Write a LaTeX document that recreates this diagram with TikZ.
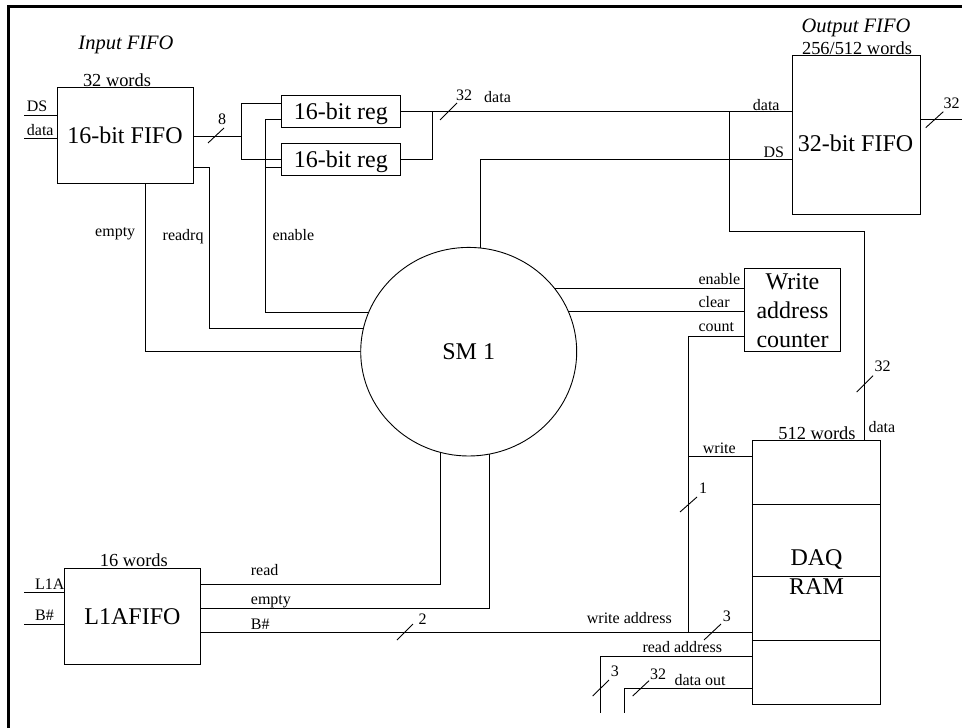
\documentclass[tikz,border=0pt]{standalone}
\usepackage{fontspec}
\setmainfont{Liberation Serif}
\usetikzlibrary{shapes.geometric,backgrounds}
\begin{document}
\begin{tikzpicture}[x=1pt,y=-1pt,
  wire/.style={line width=0.9pt},
  blk/.style={draw,line width=0.9pt,inner sep=0pt,fill=white,font=\fontsize{24}{29}\selectfont},
  one/.style={text height=16.4pt,text depth=0pt},
  lbl/.style={inner sep=0pt,anchor=base west,font=\fontsize{16}{18}\selectfont},
  wds/.style={inner sep=0pt,anchor=base,font=\fontsize{18.4}{20}\selectfont},
  ttl/.style={inner sep=0pt,anchor=base,font=\fontsize{20.5}{22}\selectfont\itshape},
  bigt/.style={inner sep=0pt,anchor=base,font=\fontsize{24}{29}\selectfont},
  slash/.style={line width=0.9pt},
]
\useasboundingbox (0,0) rectangle (962,728);

% blocks
\node[blk,one,minimum width=136pt,minimum height=96pt] (ififo) at (125,135) {16-bit FIFO};
\node[blk,one,minimum width=119.7pt,minimum height=32pt] (rega) at (340.85,111.3) {16-bit reg};
\node[blk,one,minimum width=119.7pt,minimum height=31.7pt] (regb) at (340.85,159.15) {16-bit reg};
\node[blk,minimum width=127.3pt,minimum height=159pt] (ofifo) at (856.35,134.8) {};
\node[bigt] (ofifot) at (855.5,151.7) {32-bit FIFO};
\node[blk,ellipse,one,minimum width=216pt,minimum height=208.6pt] (sm) at (468.7,351.7) {SM 1};
\node[blk,align=center,minimum width=96.4pt,minimum height=83pt] (wac) at (792.5,310.2) {Write\\address\\counter};
\node[blk,align=center,minimum width=128.4pt,minimum height=264.3pt] (ram) at (816.5,572.15) {DAQ\\RAM};
\node[blk,one,minimum width=136.4pt,minimum height=95.7pt] (l1a) at (132.5,616.15) {L1AFIFO};

% coordinates
\coordinate (dsin) at (24,115);
\coordinate (datain) at (24,138);
\coordinate (split) at (241,136);
\coordinate (sa) at (241,103);
\coordinate (sb) at (241,159);
\coordinate (ena) at (265.3,119.3);
\coordinate (enb) at (265.3,167);
\coordinate (enc) at (265.3,312.3);
\coordinate (rqa) at (209,167);
\coordinate (rqb) at (209,328);
\coordinate (emb) at (145,351.7);
\coordinate (ja) at (432.3,111.7);
\coordinate (jb) at (432.3,159.3);
\coordinate (jd) at (729,111.7);
\coordinate (dsa) at (480,159.3);
\coordinate (dda) at (729,231.7);
\coordinate (ddb) at (864.3,231.7);
\coordinate (oo) at (962,119.3);
\coordinate (wen) at (744.3,288);
\coordinate (wcl) at (744.3,311.7);
\coordinate (cta) at (688.3,336);
\coordinate (ctb) at (688.3,632.5);
\coordinate (wr) at (688.3,456);
\coordinate (wa) at (200.7,632.5);
\coordinate (raa) at (600.7,656.3);
\coordinate (rab) at (600.7,713);
\coordinate (doa) at (624.3,688);
\coordinate (dob) at (624.3,713);
\coordinate (l1in) at (24.3,592);
\coordinate (bin) at (24.3,624.3);
\coordinate (rda) at (440.7,584.3);
\coordinate (ema) at (489,608.3);

\begin{scope}[on background layer]
\fill[white] (0,0) rectangle (962,728);
\draw[wire] (dsin) -- (dsin -| ififo.west);
\draw[wire] (datain) -- (datain -| ififo.west);
\draw[wire] (ififo.east |- split) -- (split);
\draw[wire] (sa -| rega.west) -- (sa) -- (sb) -- (sb -| regb.west);
\draw[wire] (ena -| rega.west) -- (ena) -- (enc) -- (enc -| sm.center);
\draw[wire] (enb) -- (enb -| regb.west);
\draw[wire] (rqa -| ififo.east) -- (rqa) -- (rqb) -- (rqb -| sm.center);
\draw[wire] (emb |- ififo.south) -- (emb) -- (sm.center);
\draw[wire] (rega.east |- ja) -- (ofifo.west |- ja);
\draw[wire] (regb.east |- jb) -- (jb) -- (ja);
\draw[wire] (dsa |- sm.center) -- (dsa) -- (ofifo.west |- dsa);
\draw[wire] (jd) -- (dda) -- (ddb) -- (ddb |- ram.north);
\draw[wire] (ofifo.east |- oo) -- (oo);
\draw[wire] (wen -| sm.center) -- (wen -| wac.west);
\draw[wire] (wcl -| sm.center) -- (wcl -| wac.west);
\draw[wire] (cta -| wac.west) -- (cta) -- (ctb);
\draw[wire] (wr) -- (wr -| ram.west);
\draw[wire] (wa -| l1a.east) -- (wa -| ram.west);
\draw[wire] (raa -| ram.west) -- (raa) -- (rab);
\draw[wire] (doa -| ram.west) -- (doa) -- (dob);
\draw[wire] (l1in) -- (l1in -| l1a.west);
\draw[wire] (bin) -- (bin -| l1a.west);
\draw[wire] (rda -| l1a.east) -- (rda) -- (rda |- sm.center);
\draw[wire] (ema -| l1a.east) -- (ema) -- (ema |- sm.center);
\end{scope}

% RAM rows
\foreach \yy in {504,576,640} \draw[wire] (ram.west |- 0,\yy) -- (ram.east |- 0,\yy);

% frame
\draw[line width=2.6pt] (8.7,728) -- (8.7,6.7) -- (962,6.7);

% bus slashes
\draw[slash] (208,143) -- (224,128);
\draw[slash] (440,120) -- (457,103);
\draw[slash] (925.7,127.7) -- (943.3,111.7);
\draw[slash] (856.7,392) -- (873,375.7);
\draw[slash] (680,512) -- (697,497);
\draw[slash] (397,640) -- (413,624);
\draw[slash] (704,640) -- (721,624);
\draw[slash] (592.7,696) -- (609,680);
\draw[slash] (632.7,696) -- (649,680.7);

% titles and labels
\node[ttl] (t1) at (126,49) {Input FIFO};
\node[wds] (w1) at (117,86.5) {32 words};
\node[lbl] (l1) at (26.7,111.7) {DS};
\node[lbl] (l2) at (26.7,135) {data};
\node[lbl,anchor=base] (l3) at (222,124) {8};
\node[lbl] (l4) at (95,236) {empty};
\node[lbl] (l5) at (162.5,240.5) {readrq};
\node[lbl] (l6) at (272.3,240.5) {enable};
\node[lbl] (l7) at (456,100) {32};
\node[lbl] (l8) at (484,102) {data};
\node[ttl] (t2) at (856,32.7) {Output FIFO};
\node[wds] (w2) at (857,54) {256/512 words};
\node[lbl] (l9) at (752.7,110) {data};
\node[lbl] (l10) at (763.3,157.3) {DS};
\node[lbl] (l11) at (943.3,108.3) {32};
\node[lbl] (l12) at (698.3,284) {enable};
\node[lbl] (l13) at (698.3,307.3) {clear};
\node[lbl] (l14) at (698.3,331.7) {count};
\node[lbl] (l15) at (874.3,371.7) {32};
\node[lbl] (l16) at (868.3,432.3) {data};
\node[wds] (w3) at (817,439) {512 words};
\node[lbl] (l17) at (702.7,453.3) {write};
\node[lbl] (l18) at (699,493.3) {1};
\node[lbl] (l19) at (586.7,623.3) {write address};
\node[lbl] (l20) at (722.7,621) {3};
\node[lbl] (l21) at (642.3,652.3) {read address};
\node[lbl] (l22) at (610.7,676.7) {3};
\node[lbl] (l23) at (650,679.3) {32};
\node[lbl] (l24) at (674.3,685) {data out};
\node[wds] (w4) at (133.8,566.7) {16 words};
\node[lbl] (l25) at (35,589) {L1A};
\node[lbl] (l26) at (35,620.7) {B\#};
\node[lbl] (l27) at (250.7,575) {read};
\node[lbl] (l28) at (250.7,604.3) {empty};
\node[lbl] (l29) at (250.7,629) {B\#};
\node[lbl] (l30) at (418.3,624) {2};
\end{tikzpicture}
\end{document}
